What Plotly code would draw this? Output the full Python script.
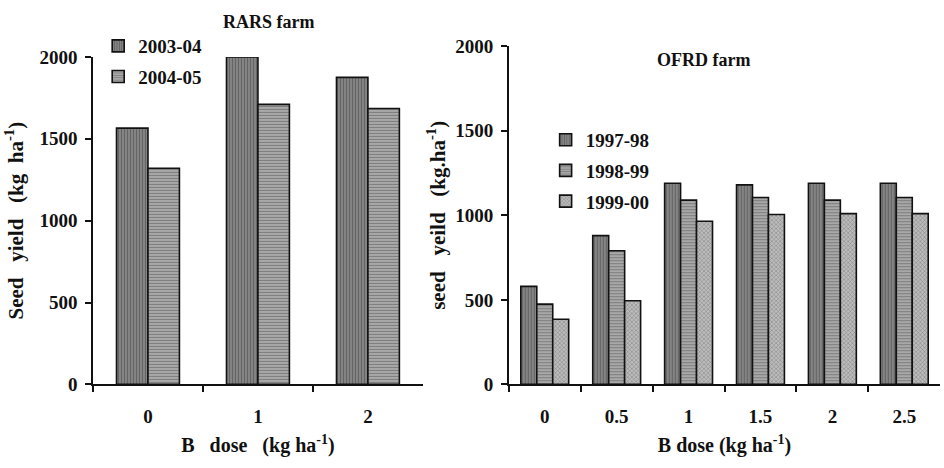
import plotly.graph_objects as go

# RARS farm: seed yield by boron dose for two seasons
rars_dose = ["0", "1", "2"]
rars_2003_04 = [1565, 2000, 1875]
rars_2004_05 = [1320, 1710, 1685]

# OFRD farm: seed yield by boron dose for three seasons
ofrd_dose = ["0", "0.5", "1", "1.5", "2", "2.5"]
ofrd_1997_98 = [580, 880, 1190, 1180, 1190, 1190]
ofrd_1998_99 = [475, 790, 1090, 1105, 1090, 1105]
ofrd_1999_00 = [385, 495, 965, 1005, 1010, 1010]

y_ticks = [0, 500, 1000, 1500, 2000]

FONT = "Liberation Serif"

styles = {
    "v": dict(shape="|", fgcolor="#3c3c3c", bgcolor="#8a8a8a", size=3, solidity=0.45),
    "h": dict(shape="-", fgcolor="#4a4a4a", bgcolor="#b0b0b0", size=3, solidity=0.45),
    "x": dict(shape="x", fgcolor="#4f4f4f", bgcolor="#bcbcbc", size=3, solidity=0.35),
}


def bold(s):
    return "<b>" + s + "</b>"


def bar(x, y, name, style, xa, ya, legend, width, offset):
    return go.Bar(
        x=x, y=y, name=bold(name), xaxis=xa, yaxis=ya, legend=legend,
        legendgroup=name, width=width, offset=offset,
        marker=dict(color=styles[style]["bgcolor"], pattern=styles[style],
                    line=dict(color="#111111", width=1.6)),
    )


fig = go.Figure()
wl = 0.286
fig.add_trace(bar(rars_dose, rars_2003_04, "2003-04", "v", "x", "y", "legend", wl, -wl))
fig.add_trace(bar(rars_dose, rars_2004_05, "2004-05", "h", "x", "y", "legend", wl, 0))
wr = 0.222
fig.add_trace(bar(ofrd_dose, ofrd_1997_98, "1997-98", "v", "x2", "y2", "legend2", wr, -1.5 * wr))
fig.add_trace(bar(ofrd_dose, ofrd_1998_99, "1998-99", "h", "x2", "y2", "legend2", wr, -0.5 * wr))
fig.add_trace(bar(ofrd_dose, ofrd_1999_00, "1999-00", "x", "x2", "y2", "legend2", wr, 0.5 * wr))

tick_font = dict(family=FONT, size=19, color="#111111")
xtitle_font = dict(family=FONT, size=20, color="#111111")
ytitle_font = dict(family=FONT, size=21, color="#111111")

xaxis_common = dict(
    type="category", showline=True, linecolor="#111111", linewidth=1.5,
    ticks="outside", tickson="boundaries", ticklen=6, tickwidth=1.5,
    tickcolor="#111111", showgrid=False, zeroline=False, tickfont=tick_font,
    ticklabelstandoff=14,
)
yaxis_common = dict(
    range=[0, 2000], tickvals=y_ticks, ticktext=[bold(str(v)) for v in y_ticks],
    showline=True, linecolor="#111111",
    linewidth=1.5, ticks="outside", ticklen=6, tickwidth=1.5,
    tickcolor="#111111", showgrid=False, zeroline=False, tickfont=tick_font,
    ticklabelstandoff=4,
)

legend_common = dict(
    xanchor="left", yanchor="top", bgcolor="rgba(0,0,0,0)", font=tick_font,
    traceorder="grouped", tracegroupgap=3, itemwidth=30,
)

fig.update_layout(
    width=944, height=468, margin=dict(l=0, r=0, t=0, b=0),
    paper_bgcolor="white", plot_bgcolor="white", barmode="overlay",
    xaxis=dict(domain=[0.0985, 0.448], anchor="y", range=[-0.5, 2.5],
               tickvals=rars_dose, ticktext=[bold(d) for d in rars_dose],
               title=dict(text=bold("B   dose   (kg ha<sup>-1</sup>)"), font=xtitle_font, standoff=12),
               **xaxis_common),
    yaxis=dict(domain=[0.1624, 0.895], anchor="x",
               title=dict(text=bold("Seed   yield   (kg  ha<sup>-1</sup>)"), font=ytitle_font, standoff=10),
               **yaxis_common),
    xaxis2=dict(domain=[0.539, 0.996], anchor="y2", range=[-0.5, 5.5],
                tickvals=ofrd_dose, ticktext=[bold(d) for d in ofrd_dose],
                title=dict(text=bold("B dose (kg ha<sup>-1</sup>)"), font=xtitle_font, standoff=12),
                **xaxis_common),
    yaxis2=dict(domain=[0.1624, 0.919], anchor="x2",
                title=dict(text=bold("seed   yeild   (kg.ha<sup>-1</sup>)"), font=ytitle_font, standoff=4),
                **yaxis_common),
    legend=dict(x=0.104, y=0.962, **legend_common),
    legend2=dict(x=0.578, y=0.752, **legend_common),
    annotations=[
        dict(text=bold("RARS farm"), x=0.285, y=0.974, xref="paper", yref="paper",
             xanchor="center", yanchor="middle", showarrow=False,
             font=dict(family=FONT, size=18, color="#111111")),
        dict(text=bold("OFRD farm"), x=0.745, y=0.889, xref="paper", yref="paper",
             xanchor="center", yanchor="middle", showarrow=False,
             font=dict(family=FONT, size=18, color="#111111")),
    ],
)

fig.write_html("out.html")
